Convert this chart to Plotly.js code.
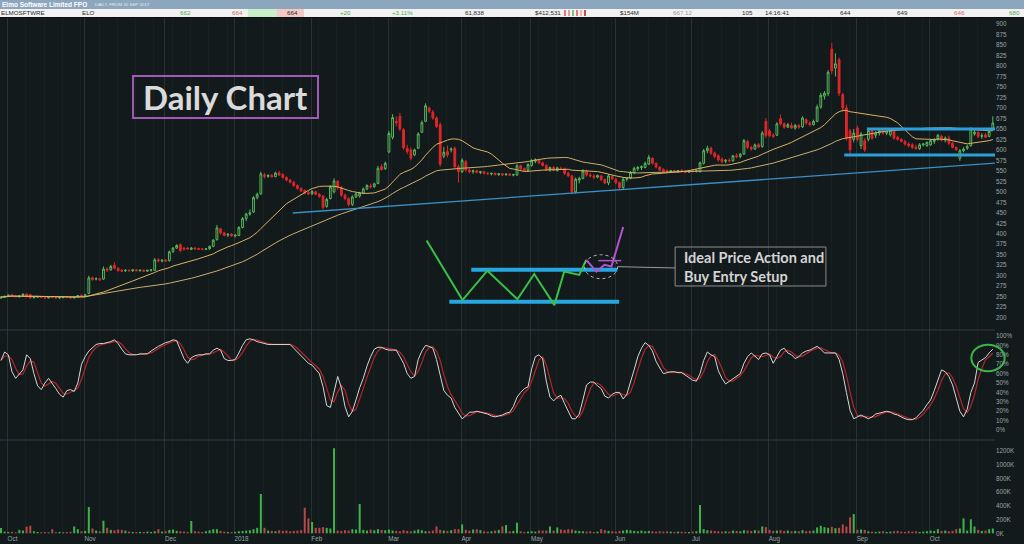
<!DOCTYPE html>
<html><head><meta charset="utf-8">
<script src="https://cdn.plot.ly/plotly-3.0.1.min.js"></script>
<style>
html,body{margin:0;padding:0;background:#131a1c;width:1024px;height:544px;overflow:hidden;}
#chart{position:absolute;left:0;top:0;width:1024px;height:544px;}
#hdr{position:absolute;left:0;top:0;width:1024px;height:17px;z-index:5;font-family:'Liberation Sans',Arial,sans-serif;}
#hdr .bar{position:absolute;left:0;top:0;width:1024px;height:9px;background:#8ca6bd;}
#hdr .row{position:absolute;left:0;top:9px;width:1024px;height:8px;background:#f1f1f1;border-bottom:1px solid #0b0f10;}
#hdr span{position:absolute;white-space:nowrap;top:9px;font-size:6.2px;line-height:8px;color:#2a2a2a;}
#hdr span.t{top:0;line-height:9px;}
#hdr i{position:absolute;top:10px;width:2px;height:6px;}
</style></head>
<body>
<div id="chart"></div>
<div id="hdr">
  <div class="bar"></div>
  <span class="t" style="left:2px;font-size:6.5px;font-weight:bold;color:#fff">Elmo Software Limited FPO</span>
  <span class="t" style="left:95px;font-size:4.4px;color:#e4ecf3">DAILY, FROM 20 SEP 2017</span>
  <div class="row"></div>
  <div style="position:absolute;left:248px;top:9px;width:29px;height:8px;background:#c9efc9"></div>
  <div style="position:absolute;left:277px;top:9px;width:27px;height:8px;background:#f5c8c8"></div>
  <span style="left:1px">ELMOSFTWRE</span>
  <span style="left:82px">ELO</span>
  <span style="left:180px;color:#4fae55">662</span>
  <span style="left:232px;color:#d86a6a">664</span>
  <span style="left:287px">664</span>
  <span style="left:340px;color:#4fae55">+20</span>
  <span style="left:392px;color:#4fae55">+3.11%</span>
  <span style="left:465px">61,838</span>
  <span style="left:535px">$412,531</span>
  <i style="left:564px;background:#e07a7a"></i><i style="left:568px;background:#d9a0a0"></i><i style="left:572px;background:#7cc47c"></i><i style="left:576px;background:#e07a7a"></i><i style="left:580px;background:#f0b0b0"></i><i style="left:584px;background:#d04a4a"></i>
  <span style="left:620px">$154M</span>
  <span style="left:673px;color:#9a9a9a">667.12</span>
  <span style="left:742px">105</span>
  <span style="left:765px">14:16:41</span>
  <span style="left:840px">644</span>
  <span style="left:897px">649</span>
  <span style="left:954px;color:#d86a6a">646</span>
  <span style="left:1009px;color:#4fae55">680</span>
</div>
<script>
// ---- DATA (daily candles, trading-day index 0..271, late Sep 2017 – Oct 2018) ----
const openP = [
247,249,251,254,252,250,253,256,255,248,
249,250,248,247,249,248,247,248,249,248,
247,249,253,251,258,295,292,293,292,316,
314,325,318,313,312,313,312,314,312,313,
311,313,313,338,335,337,336,357,366,374,
366,366,363,366,365,364,363,364,370,386,
412,402,397,399,395,396,415,436,447,452,
486,495,540,537,539,536,545,541,534,528,
523,515,508,503,498,495,500,494,490,465,
484,500,525,510,492,484,470,488,490,497,
507,514,512,520,560,555,595,630,668,680,
648,604,600,588,604,642,668,700,690,676,
660,585,596,600,604,560,548,572,552,548,
550,546,548,544,543,544,541,543,541,542,
540,540,562,555,551,563,573,576,569,563,
552,558,551,556,555,544,538,500,528,532,
549,540,538,535,538,529,521,537,530,522,
510,530,532,546,555,558,558,566,580,568,
559,553,550,548,550,548,551,549,547,550,
549,548,568,598,604,592,586,578,573,575,
574,586,584,590,620,606,602,612,608,668,
645,635,635,675,662,654,658,652,658,655,
672,664,660,668,702,728,734,840,795,815,
732,700,645,625,652,610,622,625,646,635,
640,646,640,636,646,630,625,620,614,612,
606,603,612,610,612,620,625,632,624,628,
616,606,580,598,604,610,638,642,632,636,
632,649];
const highP = [
250,252,255,257,254,253,258,258,257,251,
252,251,250,250,251,250,249,250,251,250,
250,254,256,256,300,298,296,295,322,320,
326,332,320,316,315,315,315,316,315,315,
314,316,342,342,339,340,360,368,375,377,
368,368,368,368,367,366,366,372,387,421,
414,405,401,402,398,418,440,450,458,490,
498,548,545,542,543,548,550,545,537,531,
526,518,511,506,502,504,503,497,492,486,
516,532,528,514,496,487,492,498,500,510,
518,520,522,562,566,572,645,685,680,688,
652,612,606,603,642,670,711,703,695,680,
666,607,610,606,608,565,580,576,556,553,
553,550,550,547,546,546,545,545,544,545,
543,566,565,558,568,578,580,578,572,566,
560,562,560,560,558,548,541,534,536,554,
553,545,542,541,540,532,542,541,533,525,
534,534,550,560,562,563,572,588,582,570,
561,556,553,552,553,552,554,552,551,553,
553,572,602,610,608,596,590,582,578,580,
588,592,592,626,624,610,615,616,645,676,
650,640,666,684,666,664,665,662,662,680,
675,668,672,708,736,740,790,855,830,820,
736,708,650,650,658,642,628,650,648,645,
649,650,648,650,648,634,628,624,618,616,
612,616,616,620,626,628,638,636,632,634,
620,608,602,606,612,654,648,644,640,640,
648,680];
const lowP = [
245,247,250,251,249,248,252,249,246,245,
247,247,246,246,247,246,245,246,247,245,
246,248,250,250,256,288,289,288,290,309,
312,315,310,309,309,310,309,311,310,310,
309,310,312,332,332,333,334,355,364,356,
360,362,361,362,362,361,361,362,368,384,
398,394,392,393,391,394,413,430,443,450,
482,493,532,533,534,535,538,532,525,520,
512,505,500,494,492,493,492,486,458,462,
482,496,505,488,480,465,466,485,486,495,
504,508,510,518,550,552,592,625,656,645,
600,590,575,585,602,640,666,688,672,652,
560,580,582,594,555,522,545,548,544,543,
544,542,541,540,539,539,538,539,538,538,
537,538,552,548,549,560,568,566,560,550,
548,549,548,552,540,535,494,496,520,530,
536,534,530,532,526,518,516,528,518,506,
507,525,530,542,550,552,556,564,565,556,
549,547,545,545,546,545,546,545,545,546,
546,546,565,592,588,580,572,568,568,570,
572,580,580,588,602,598,600,604,605,628,
630,628,633,658,650,652,650,648,650,652,
660,656,658,666,698,720,728,780,775,728,
690,622,590,618,620,602,595,620,624,628,
634,636,635,632,624,622,618,610,606,602,
600,600,608,607,610,614,622,620,618,612,
604,598,574,594,600,608,634,628,626,628,
630,646];
const closeP = [
249,251,254,252,250,252,256,250,247,249,
250,248,247,249,248,247,248,249,248,247,
249,253,251,255,295,291,293,290,316,313,
322,318,312,311,313,312,314,312,313,311,
313,314,338,335,337,335,357,366,372,360,
364,364,366,364,363,363,364,370,385,414,
402,396,399,395,397,415,436,447,450,486,
494,543,537,539,536,545,540,534,528,523,
515,508,502,497,495,501,494,489,463,482,
512,526,510,492,484,470,488,495,497,507,
515,512,519,556,553,568,639,677,664,650,
605,596,580,600,638,665,705,692,676,656,
566,594,588,602,560,548,575,552,548,550,
546,548,544,543,544,541,543,540,542,540,
541,562,555,550,565,574,576,569,563,552,
558,551,557,555,544,538,500,530,532,550,
540,538,535,539,529,521,538,531,522,510,
530,532,546,556,558,560,568,582,568,559,
552,549,548,550,548,551,549,547,550,549,
551,569,598,604,592,584,576,572,575,574,
586,584,590,622,606,602,612,607,640,634,
634,632,662,662,654,660,652,658,654,676,
664,660,668,702,730,735,785,788,805,735,
700,628,600,640,625,638,600,646,628,640,
646,640,644,646,628,625,620,614,610,606,
603,612,614,618,622,625,635,624,628,616,
606,600,598,602,608,650,642,632,634,630,
644,664];
// volume in thousands of shares
const volumeK = [
77,25,18,22,15,50,40,97,110,30,
20,15,18,12,60,15,20,14,18,22,
100,60,30,35,383,70,40,30,184,80,
50,45,55,50,40,25,20,18,22,20,
25,20,30,60,25,30,50,55,35,30,
25,20,180,30,25,20,30,45,60,60,
35,25,20,18,22,30,35,40,45,60,
80,573,80,40,35,30,45,35,40,30,
35,40,45,373,218,165,80,80,90,80,
70,1240,40,35,45,40,60,55,427,50,
40,55,45,60,50,45,55,40,35,30,
45,35,30,40,55,45,30,30,40,100,
50,40,35,45,60,60,130,50,40,55,
60,45,30,25,30,40,50,100,120,30,
35,155,30,20,25,30,25,40,40,40,
100,40,85,55,50,60,55,40,35,30,
25,30,20,25,60,45,35,30,25,35,
40,50,45,35,30,40,30,35,30,25,
30,25,30,25,20,25,22,20,18,25,
30,413,60,45,40,35,30,25,30,25,
40,35,30,45,40,35,45,40,100,90,
50,35,40,45,35,40,30,35,30,45,
30,35,40,85,110,90,80,95,75,80,
130,100,233,281,50,55,50,30,25,20,
25,30,20,25,30,35,25,20,30,25,
30,20,25,30,40,35,60,35,40,30,
35,60,70,218,40,204,100,50,35,40,
60,70];
// stochastic %K (percent)
const stochK = [
74,83,80,62,55,60,64,80,76,60,
47,43,50,55,50,44,38,35,42,43,
41,50,70,78,84,88,91,92,92,93,
94,96,92,86,81,80,80,80,81,81,
81,84,87,89,91,93,94,96,95,85,
76,71,77,79,80,80,81,81,85,87,
85,76,74,74,75,82,90,96,97,96,
94,93,92,91,91,91,91,91,91,91,
87,83,79,75,71,69,65,60,46,26,
24,40,57,45,25,14,20,32,45,55,
68,78,86,88,88,86,85,85,85,78,
71,60,55,57,75,84,90,89,87,75,
60,42,37,34,24,18,12,15,19,19,
20,19,18,17,15,14,15,16,18,19,
25,35,40,44,46,65,78,80,76,52,
35,31,35,37,28,20,12,12,17,32,
48,51,51,47,44,36,34,38,40,40,
33,38,50,64,78,87,93,90,84,73,
66,60,61,62,62,61,61,58,56,53,
52,60,74,83,80,78,63,55,49,52,
55,58,60,71,78,82,78,75,81,82,
80,71,78,85,87,82,80,76,78,82,
84,85,87,89,86,82,82,82,82,75,
60,40,21,12,14,16,14,12,14,17,
18,19,20,19,17,16,14,12,11,11,
13,17,21,27,32,42,53,64,62,57,
48,34,20,14,22,40,50,72,75,77,
82,86];
// x-axis: first trading-day index of each month and its label
const monthStart = [2, 23, 45, 64, 85, 106, 126, 145, 168, 189, 210, 234, 254];
const monthLabels = ['Oct','Nov','Dec','2018','Feb','Mar','Apr','May','Jun','Jul','Aug','Sep','Oct'];
const priceTicks = []; for (let v = 200; v <= 900; v += 25) priceTicks.push(v);
const stochTicks = [0,10,20,30,40,50,60,70,80,90,100];
const volTicks = [0,200,400,600,800,1000,1200];
// drawn annotations on the chart (day index, price)
const trendX = [79.7, 271.6], trendY = [449.6, 568.5];
const resistX = [236.6, 271.6], resistY = [650, 650];
const supportX = [230.4, 271.6], supportY = [588, 588];
const idealGreenX = [116.3, 126.1, 132.9, 141.1, 145.7, 151.2, 153.9, 158.0, 159.9];
const idealGreenY = [384, 242, 312, 244, 304, 230, 310, 302, 338];
const idealPurpleX = [159.9, 162.7, 164.9, 166.8, 170.0];
const idealPurpleY = [338, 310, 326, 322, 416];
const purpleTickX = [163.2, 169.5], purpleTickY = [336, 336];
const idealTopX = [128.5, 168.4], idealTopY = [314, 314];
const idealBotX = [122.5, 168.9], idealBotY = [238, 238];
const ellipseX = [159.4, 168.5], ellipseY = [293, 350];
const connectorX = [168.5, 184.2], connectorY = [321.6, 318.5];
const idealBoxX = [184.2, 225.4], idealBoxY = [275.6, 368.5];

// ---- derived ----
const idx = closeP.map((_, i) => i);
function sma(arr, n) {
  return arr.map((_, i) => { const s = Math.max(0, i - n + 1); let t = 0; for (let j = s; j <= i; j++) t += arr[j]; return t / (i - s + 1); });
}
const ma20 = sma(closeP, 20);
const ma50 = sma(closeP, 50);
const stochD = sma(stochK, 3);
const volColors = closeP.map((c, i) => c >= openP[i] ? '#3fb34a' : '#b8474a');

const tf = {family: 'Liberation Sans, Arial, sans-serif', size: 6.3, color: '#9aa4a7'};
const gridMajor = '#283133', gridMinor = '#182022';

const data = [
  {type: 'candlestick', x: idx, open: openP, high: highP, low: lowP, close: closeP, xaxis: 'x', yaxis: 'y',
   increasing: {line: {color: '#57b95c', width: 1}, fillcolor: 'rgba(19,26,28,1)'},
   decreasing: {line: {color: '#e0262a', width: 1}, fillcolor: '#e0262a'},
   whiskerwidth: 0, hoverinfo: 'skip'},
  {type: 'scatter', mode: 'lines', x: idx, y: ma50, xaxis: 'x', yaxis: 'y', line: {color: '#c9ae6e', width: 1}},
  {type: 'scatter', mode: 'lines', x: idx, y: ma20, xaxis: 'x', yaxis: 'y', line: {color: '#dcb163', width: 1}},
  {type: 'scatter', mode: 'lines', x: idealTopX, y: idealTopY, xaxis: 'x', yaxis: 'y', line: {color: '#27a6e0', width: 4}},
  {type: 'scatter', mode: 'lines', x: idealBotX, y: idealBotY, xaxis: 'x', yaxis: 'y', line: {color: '#27a6e0', width: 4}},
  {type: 'scatter', mode: 'lines', x: idealGreenX, y: idealGreenY, xaxis: 'x', yaxis: 'y', line: {color: '#39c046', width: 2}},
  {type: 'scatter', mode: 'lines', x: idealPurpleX, y: idealPurpleY, xaxis: 'x', yaxis: 'y', line: {color: '#b452d4', width: 2}},
  {type: 'scatter', mode: 'lines', x: purpleTickX, y: purpleTickY, xaxis: 'x', yaxis: 'y', line: {color: '#b452d4', width: 1.5}},
  {type: 'scatter', mode: 'lines', x: connectorX, y: connectorY, xaxis: 'x', yaxis: 'y', line: {color: '#9a9a9a', width: 1}},
  {type: 'scatter', mode: 'lines', x: idx, y: stochD, xaxis: 'x', yaxis: 'y2', line: {color: '#b3262b', width: 1.2}},
  {type: 'scatter', mode: 'lines', x: idx, y: stochK, xaxis: 'x', yaxis: 'y2', line: {color: '#d6d6d6', width: 1}},
  {type: 'bar', x: idx, y: volumeK, xaxis: 'x', yaxis: 'y3', width: 0.55, marker: {color: volColors, line: {width: 0}}}
];

const layout = {
  width: 1024, height: 544, margin: {l: 0, r: 29, t: 17, b: 10, pad: 0},
  paper_bgcolor: '#131a1c', plot_bgcolor: '#131a1c', showlegend: false, hovermode: false,
  xaxis: {type: 'linear', range: [-0.27, 271.6], anchor: 'y3', tickmode: 'array',
    tickvals: monthStart.map(v => v - 0.2), ticktext: monthLabels, ticklabelposition: 'outside right',
    ticks: '', showgrid: true, gridcolor: gridMajor, gridwidth: 1, zeroline: false, showline: false,
    tickfont: tf, minor: {dtick: 5, tick0: 1.8, showgrid: true, gridcolor: gridMinor, ticks: ''},
    rangeslider: {visible: false}, fixedrange: true},
  yaxis: {domain: [0.3946, 1], range: [170.7, 916.7], side: 'right', anchor: 'x', tickmode: 'array',
    tickvals: priceTicks, ticks: '', showgrid: false, zeroline: false, tickfont: tf},
  yaxis2: {domain: [0.1818, 0.3946], range: [-10.6, 106.4], side: 'right', anchor: 'x', tickmode: 'array',
    tickvals: stochTicks, ticktext: stochTicks.map(v => v + '%'), ticks: '', showgrid: false, zeroline: false, tickfont: tf},
  yaxis3: {domain: [0, 0.1818], range: [-10, 1360], side: 'right', anchor: 'x', tickmode: 'array',
    tickvals: volTicks, ticktext: volTicks.map(v => v + 'K'), ticks: '', showgrid: false, zeroline: false, tickfont: tf},
  yaxis4: {overlaying: 'y', anchor: 'x', side: 'right', range: [170.7, 916.7], tick0: 0, dtick: 100, showticklabels: false,
    ticks: '', showgrid: true, gridcolor: gridMajor, zeroline: false, minor: {dtick: 25, showgrid: true, gridcolor: gridMinor}},
  yaxis5: {overlaying: 'y2', anchor: 'x', side: 'right', range: [-10.6, 106.4], tick0: 0, dtick: 50, showticklabels: false,
    ticks: '', showgrid: true, gridcolor: gridMajor, zeroline: false, minor: {dtick: 10, showgrid: true, gridcolor: gridMinor}},
  yaxis6: {overlaying: 'y3', anchor: 'x', side: 'right', range: [-10, 1360], tick0: 0, dtick: 1000, showticklabels: false,
    ticks: '', showgrid: true, gridcolor: gridMajor, zeroline: false, minor: {dtick: 200, showgrid: true, gridcolor: gridMinor}},
  shapes: [
    {type: 'line', xref: 'paper', yref: 'paper', x0: 0, x1: 1, y0: 0.3946, y1: 0.3946, line: {color: '#323c3f', width: 1}},
    {type: 'line', xref: 'paper', yref: 'paper', x0: 0, x1: 1, y0: 0.1818, y1: 0.1818, line: {color: '#323c3f', width: 1}},
    {type: 'line', xref: 'x', yref: 'y', x0: trendX[0], x1: trendX[1], y0: trendY[0], y1: trendY[1], line: {color: '#3a8fc6', width: 1.3}},
    {type: 'line', xref: 'x', yref: 'y', x0: resistX[0], x1: resistX[1], y0: resistY[0], y1: resistY[1], line: {color: '#2b9fd9', width: 3}},
    {type: 'line', xref: 'x', yref: 'y', x0: supportX[0], x1: supportX[1], y0: supportY[0], y1: supportY[1], line: {color: '#2b9fd9', width: 3}},
    {type: 'circle', xref: 'x', yref: 'y', x0: ellipseX[0], x1: ellipseX[1], y0: ellipseY[0], y1: ellipseY[1], line: {color: '#b8b8b8', width: 1, dash: 'dot'}},
    {type: 'rect', xref: 'x', yref: 'y', x0: idealBoxX[0], x1: idealBoxX[1], y0: idealBoxY[0], y1: idealBoxY[1], line: {color: '#8c8c8c', width: 1}},
    {type: 'rect', xref: 'paper', yref: 'paper', x0: 0.1337, x1: 0.3196, y0: 0.8046, y1: 0.8859, line: {color: '#a259ba', width: 2}},
    {type: 'circle', xref: 'paper', yref: 'paper', x0: 0.9762, x1: 1.0097, y0: 0.3147, y1: 0.3662, line: {color: '#3cb44b', width: 2}}
  ],
  annotations: [
    {xref: 'paper', yref: 'paper', x: 0.2266, y: 0.8453, xanchor: 'center', yanchor: 'middle', showarrow: false,
     text: 'Daily Chart', font: {family: 'Lato', size: 33, color: '#dadada', weight: 700}},
    {xref: 'x', yref: 'y', x: 186.1, y: 322, xanchor: 'left', yanchor: 'middle', align: 'left', showarrow: false,
     text: 'Ideal Price Action and<br>Buy Entry Setup', font: {family: 'Lato', size: 14.5, color: '#d4d4d4', weight: 700}}
  ]
};

Plotly.newPlot('chart', data, layout, {staticPlot: true, displayModeBar: false});
</script>
</body></html>
